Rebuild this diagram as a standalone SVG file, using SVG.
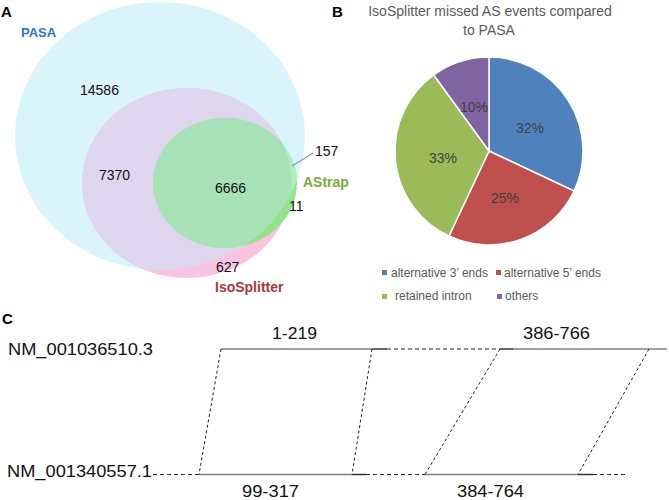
<svg xmlns="http://www.w3.org/2000/svg" width="669" height="500" viewBox="0 0 669 500">
<style>
.lbl{font-family:"Liberation Sans",Arial,sans-serif;font-weight:bold;fill:#000}
.num{font-family:"Liberation Sans",Arial,sans-serif;font-size:14px;fill:#111}
.pct{font-family:"Liberation Sans",Arial,sans-serif;font-size:14px;fill:#404040;text-anchor:middle}
.leg{font-family:"Liberation Sans",Arial,sans-serif;font-size:12px;fill:#595959}
.ttl{font-family:"Liberation Sans",Arial,sans-serif;font-size:14px;fill:#595959;text-anchor:middle}
.seq{font-family:"Liberation Sans",Arial,sans-serif;font-size:16px;fill:#111}
.solid{stroke:#808080;stroke-width:1.5;fill:none}
.tick{stroke:#333;stroke-width:1.5;fill:none}
.hdash{stroke:#222;stroke-width:1;stroke-dasharray:4 3;fill:none}
.cdash{stroke:#222;stroke-width:1;stroke-dasharray:3 2.5;fill:none}
.slice{stroke:#fff;stroke-width:1.5}
</style>
<defs>
<clipPath id="cpCyan"><ellipse cx="160" cy="136" rx="145" ry="134"/></clipPath>
<clipPath id="cpPink"><ellipse cx="187" cy="183" rx="105" ry="95"/></clipPath>
</defs>
<rect width="669" height="500" fill="#fff"/>

<!-- Panel A -->
<text class="lbl" x="1" y="17" font-size="15">A</text>
<g id="pasa">
<ellipse cx="160" cy="136" rx="145" ry="134" fill="#daf4fb"/>
</g>
<g id="isosplitter">
<ellipse cx="187" cy="183" rx="105" ry="95" fill="#f8c4df"/>
<ellipse cx="187" cy="183" rx="105" ry="95" fill="#ded6ee" clip-path="url(#cpCyan)"/>
</g>
<g id="astrap">
<ellipse cx="225" cy="183" rx="72" ry="65" fill="#92e58a"/>
<ellipse cx="225" cy="183" rx="72" ry="65" fill="#b2eebf" clip-path="url(#cpCyan)"/>
<g clip-path="url(#cpCyan)"><ellipse cx="225" cy="183" rx="72" ry="65" fill="#a6e2b6" clip-path="url(#cpPink)"/></g>
</g>
<g id="venn-labels">
<text x="21" y="37" class="lbl" font-size="13" style="fill:#2677c8">PASA</text>
<text x="80" y="95" class="num">14586</text>
<text x="99" y="180" class="num">7370</text>
<text x="215" y="193" class="num">6666</text>
<text x="315" y="156" class="num">157</text>
<text x="303" y="187" class="lbl" font-size="14" style="fill:#7aab3e">AStrap</text>
<text x="289" y="211" class="num">11</text>
<text x="216" y="272" class="num">627</text>
<text x="215" y="292" class="lbl" font-size="14" style="fill:#a8383b">IsoSplitter</text>
</g>

<!-- Panel B -->
<text class="lbl" x="332" y="17" font-size="15">B</text>
<text class="ttl" x="490" y="16">IsoSplitter missed AS events compared</text>
<text class="ttl" x="489" y="35">to PASA</text>
<g id="pie">
<path class="slice" fill="#4f81bd" d="M489,151 L489,57 A94,94 0 0 1 574.05,191.03 Z"/>
<path class="slice" fill="#c0504d" d="M489,151 L574.05,191.03 A94,94 0 0 1 448.97,236.05 Z"/>
<path class="slice" fill="#9bbb59" d="M489,151 L448.97,236.05 A94,94 0 0 1 433.75,74.95 Z"/>
<path class="slice" fill="#8064a2" d="M489,151 L433.75,74.95 A94,94 0 0 1 489,57 Z"/>
<text class="pct" x="530" y="133">32%</text>
<text class="pct" x="505" y="203">25%</text>
<text class="pct" x="443" y="163">33%</text>
<text class="pct" x="474" y="112">10%</text>
</g>
<g id="legend">
<rect x="382" y="270" width="5" height="5" fill="#4f81bd"/>
<text class="leg" x="391" y="277">alternative 3’ ends</text>
<rect x="496" y="270" width="5" height="5" fill="#c0504d"/>
<text class="leg" x="504" y="277">alternative 5’ ends</text>
<rect x="382" y="294" width="5" height="5" fill="#9bbb59"/>
<text class="leg" x="395" y="300">retained intron</text>
<rect x="497" y="294" width="5" height="5" fill="#8064a2"/>
<text class="leg" x="505" y="300">others</text>
</g>

<!-- Panel C -->
<text class="lbl" x="2" y="324" font-size="15">C</text>
<g id="seq-top">
<text class="seq" x="8" y="355" textLength="145" lengthAdjust="spacingAndGlyphs">NM_001036510.3</text>
<line class="solid" x1="221" y1="349" x2="372" y2="349"/>
<line class="tick" x1="372" y1="349" x2="387" y2="349"/>
<line class="hdash" x1="387" y1="349" x2="500" y2="349"/>
<line class="tick" x1="500" y1="349" x2="513" y2="349"/>
<line class="solid" x1="513" y1="349" x2="667" y2="349"/>
<text class="seq" x="272" y="339" textLength="45" lengthAdjust="spacingAndGlyphs">1-219</text>
<text class="seq" x="523" y="339" textLength="67" lengthAdjust="spacingAndGlyphs">386-766</text>
</g>
<g id="seq-bottom">
<text class="seq" x="7" y="477" textLength="145" lengthAdjust="spacingAndGlyphs">NM_001340557.1</text>
<line class="hdash" x1="153" y1="474.5" x2="199" y2="474.5"/>
<line class="solid" x1="199" y1="474.5" x2="352" y2="474.5"/>
<line class="tick" x1="352" y1="474.5" x2="366" y2="474.5"/>
<line class="hdash" x1="366" y1="474.5" x2="425" y2="474.5"/>
<line class="solid" x1="425" y1="474.5" x2="578" y2="474.5"/>
<line class="tick" x1="578" y1="474.5" x2="593" y2="474.5"/>
<line class="hdash" x1="593" y1="474.5" x2="628" y2="474.5"/>
<text class="seq" x="242" y="497" textLength="57" lengthAdjust="spacingAndGlyphs">99-317</text>
<text class="seq" x="457" y="497" textLength="67" lengthAdjust="spacingAndGlyphs">384-764</text>
</g>
<g id="connectors">
<line x1="292" y1="166" x2="313" y2="153" stroke="#4a7cc0" stroke-width="1"/>
<line class="cdash" x1="221" y1="349" x2="199" y2="474.5"/>
<line class="cdash" x1="372" y1="349" x2="352" y2="474.5"/>
<line class="cdash" x1="500" y1="349" x2="425" y2="474.5"/>
<line class="cdash" x1="649" y1="349" x2="578" y2="474.5"/>
</g>
</svg>
